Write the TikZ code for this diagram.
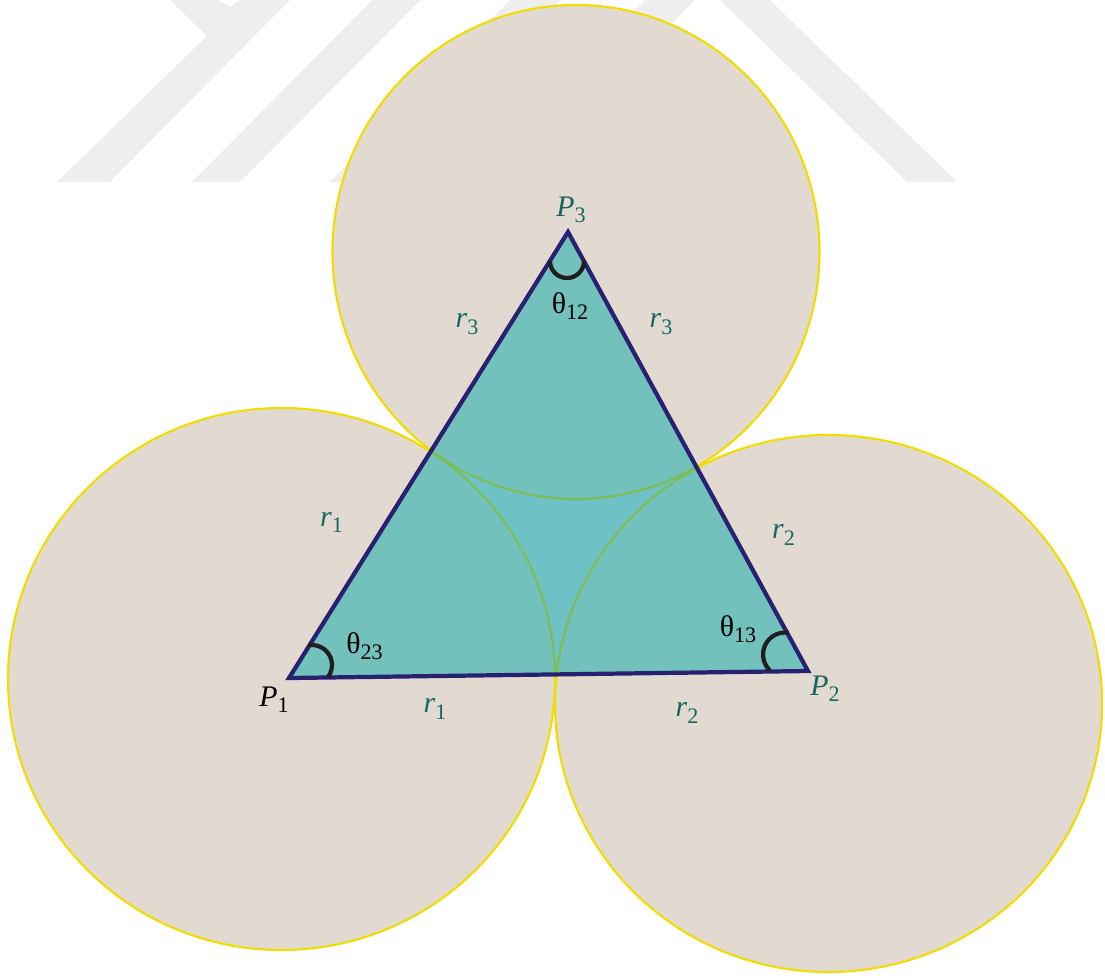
\documentclass[tikz,border=0pt]{standalone}
\usepackage{fontspec}
\setmainfont{Liberation Serif}
\usepackage{xcolor}
\usepackage{tikz}

\definecolor{wmark}{RGB}{238,238,238}
\definecolor{disc}{RGB}{226,218,208}
\definecolor{rim}{RGB}{242,220,0}
\definecolor{inner}{RGB}{114,193,189}
\definecolor{hole}{RGB}{110,194,197}
\definecolor{arcgreen}{RGB}{124,190,82}
\definecolor{edge}{RGB}{40,32,112}
\definecolor{lab}{RGB}{20,104,98}

\newcommand{\idx}[1]{\raisebox{-1.8pt}{\fontsize{6.3}{6}\selectfont #1}}

\begin{document}
\begin{tikzpicture}[
  x=0.1mm, y=-0.1mm,
  band/.style={fill=wmark},
  disk/.style={fill=disc, draw=rim, line width=0.6pt},
  seam/.style={draw=arcgreen, line width=0.6pt},
  side/.style={draw=edge, line width=1.2pt, line join=miter},
  angmark/.style={draw=black!88, line width=1.2pt},
  lbl/.style={font=\fontsize{8.5}{9}\selectfont, text=lab, inner sep=0pt},
  lblk/.style={lbl, text=black}
]
\useasboundingbox (0,0) rectangle (1105,977);

% Watermark
\fill[band] (57,182) -- (110,182) -- (290,0) -- (240,0) -- (230,7) -- (218,0) -- (170,0) -- (207,36) -- cycle;
\fill[band] (192,182) -- (240,182) -- (420,0) -- (372,0) -- cycle;
\fill[band] (330,182) -- (380,182) -- (560,0) -- (510,0) -- cycle;
\fill[band] (463,182) -- (513,182) -- (695,0) -- (645,0) -- cycle;
\fill[band] (720,0) -- (770,0) -- (957,182) -- (907,182) -- cycle;

% Centres and vertices
\coordinate (C1) at (281.5,679);
\coordinate (C2) at (828.5,703.5);
\coordinate (C3) at (576,252);
\coordinate (P1) at (289,678);
\coordinate (P2) at (808,671);
\coordinate (P3) at (568,232);

% Circles
\draw[disk] (C1) ellipse [x radius=273.5, y radius=271];
\draw[disk] (C2) ellipse [x radius=273.5, y radius=268.5];
\draw[disk] (C3) ellipse [x radius=243.5, y radius=247];

% Triangle area
\begin{scope}
  \clip (P1) -- (P2) -- (P3) -- cycle;
  \fill[hole] (P1) -- (P2) -- (P3) -- cycle;
  \fill[inner] (C1) ellipse [x radius=273.5, y radius=271];
  \fill[inner] (C2) ellipse [x radius=273.5, y radius=268.5];
  \fill[inner] (C3) ellipse [x radius=243.5, y radius=247];
  \draw[seam] (C1) ellipse [x radius=273.5, y radius=271];
  \draw[seam] (C2) ellipse [x radius=273.5, y radius=268.5];
  \draw[seam] (C3) ellipse [x radius=243.5, y radius=247];
\end{scope}
\draw[side] (P1) -- (P2) -- (P3) -- cycle;

% Angle marks
\draw[angmark] (312,665) ++(-101:20) arc[start angle=-101, end angle=37, radius=20];
\draw[angmark] (785,654.5) ++(-80:22) arc[start angle=-80, end angle=-226, radius=22];
\draw[angmark] (567,261) ++(180:17) arc[start angle=180, end angle=0, radius=17];

% Labels
\node[lbl] (p3) at (571,210) {\textit{P}\idx{3}};
\node[lblk] (t12) at (570,306) {θ\idx{12}};
\node[lbl] (r3a) at (467,324) {\textit{r}\idx{3}};
\node[lbl] (r3b) at (661,324) {\textit{r}\idx{3}};
\node[lbl] (r1a) at (331.5,522.5) {\textit{r}\idx{1}};
\node[lbl] (r2a) at (783.5,535) {\textit{r}\idx{2}};
\node[lblk] (t23) at (364.5,646) {θ\idx{23}};
\node[lblk] (t13) at (738,629) {θ\idx{13}};
\node[lblk] (p1) at (274,700) {\textit{P}\idx{1}};
\node[lbl] (r1b) at (435,709) {\textit{r}\idx{1}};
\node[lbl] (p2) at (825,689) {\textit{P}\idx{2}};
\node[lbl] (r2b) at (687,713) {\textit{r}\idx{2}};

\end{tikzpicture}
\end{document}
